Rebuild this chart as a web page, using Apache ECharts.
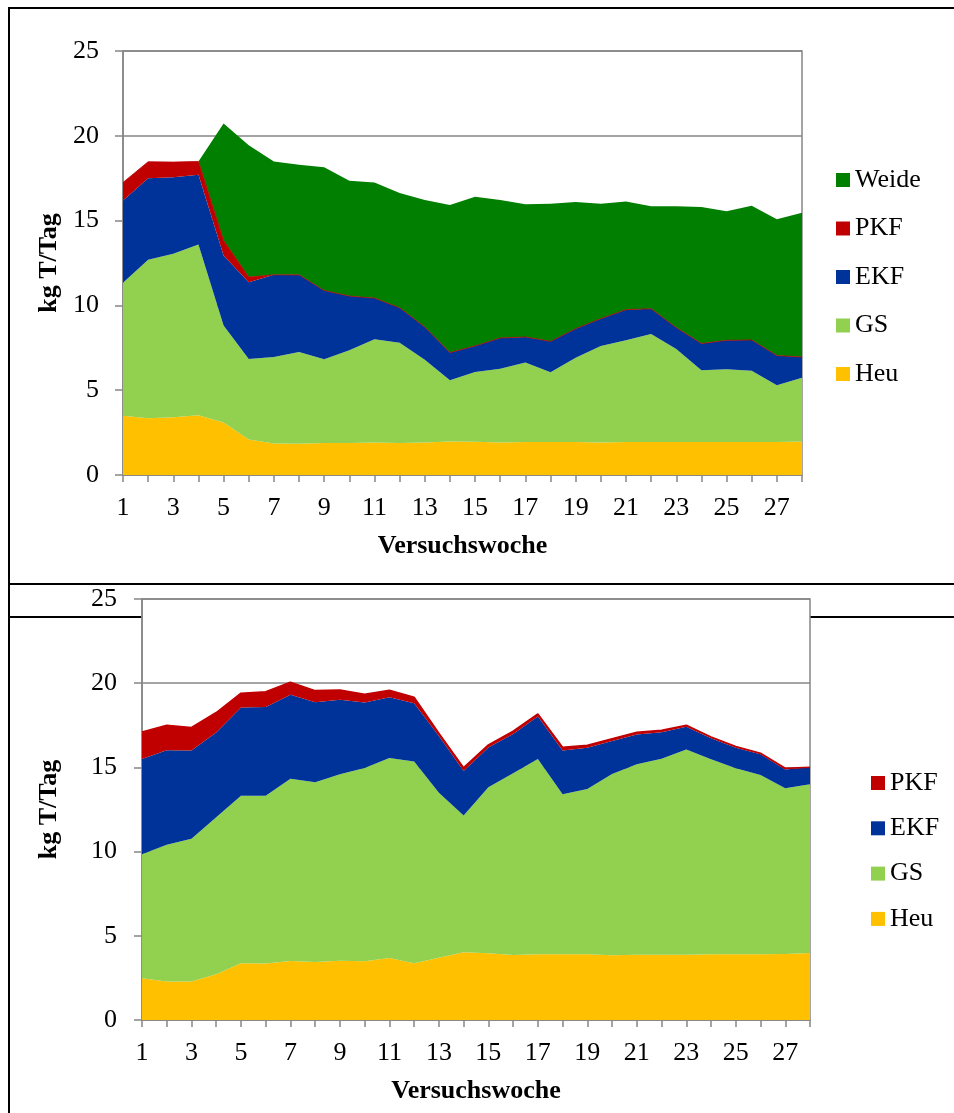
<!DOCTYPE html>
<html>
<head>
<meta charset="utf-8">
<script src="https://cdn.jsdelivr.net/npm/echarts@6/dist/echarts.min.js"></script>
<style>
html,body{margin:0;padding:0;background:#fff;}
#c{width:954px;height:1113px;}
</style>
</head>
<body>
<div id="c"></div>
<script>
// Categories (Versuchswoche)
const weeks = ['1','2','3','4','5','6','7','8','9','10','11','12','13','14','15','16','17','18','19','20','21','22','23','24','25','26','27','28'];

// Top chart (with Weide)
const topHeu   = [3.49,3.35,3.41,3.53,3.10,2.10,1.86,1.84,1.88,1.88,1.92,1.88,1.92,1.98,1.96,1.92,1.94,1.94,1.94,1.92,1.94,1.94,1.94,1.94,1.94,1.94,1.94,1.98];
const topGS    = [7.84,9.34,9.63,10.06,5.72,4.74,5.10,5.41,4.94,5.47,6.08,5.92,4.88,3.61,4.12,4.35,4.69,4.12,4.98,5.69,6.00,6.37,5.49,4.24,4.30,4.20,3.35,3.75];
const topEKF   = [4.85,4.80,4.51,4.12,4.12,4.53,4.84,4.55,4.06,3.20,2.43,2.06,1.93,1.63,1.53,1.81,1.51,1.82,1.71,1.61,1.81,1.49,1.26,1.57,1.70,1.82,1.75,1.23];
const topPKF   = [1.07,0.98,0.90,0.78,0.88,0.30,0,0,0,0,0,0,0,0,0,0,0,0,0,0,0,0,0,0,0,0,0,0];
const topWeide = [0,0,0,0,6.91,7.78,6.69,6.49,7.26,6.80,6.81,6.77,7.49,8.70,8.80,8.14,7.82,8.12,7.47,6.78,6.37,6.04,7.15,8.05,7.61,7.92,8.04,8.51];

// Bottom chart (without Weide)
const botHeu = [2.48,2.28,2.28,2.71,3.37,3.35,3.50,3.45,3.52,3.49,3.68,3.37,3.70,4.02,3.96,3.86,3.90,3.90,3.90,3.84,3.88,3.88,3.88,3.90,3.90,3.90,3.92,3.98];
const botGS  = [7.36,8.12,8.49,9.33,9.94,9.96,10.82,10.67,11.07,11.48,11.88,11.98,9.80,8.12,9.86,10.79,11.60,9.51,9.82,10.77,11.31,11.64,12.18,11.59,11.05,10.65,9.84,10.02];
const botEKF = [5.66,5.62,5.23,5.03,5.24,5.28,4.99,4.75,4.42,3.88,3.61,3.46,3.37,2.65,2.36,2.34,2.52,2.59,2.44,1.96,1.76,1.57,1.35,1.24,1.21,1.23,1.11,1.01];
const botPKF = [1.61,1.48,1.37,1.19,0.86,0.90,0.75,0.69,0.59,0.50,0.41,0.36,0.16,0.20,0.16,0.16,0.16,0.20,0.16,0.14,0.14,0.12,0.09,0.08,0.08,0.06,0.08,0];

const yTicks = {min:0, max:25, interval:5};
const legendTop = ['Weide','PKF','EKF','GS','Heu'];
const legendBot = ['PKF','EKF','GS','Heu'];

const colors = {Heu:'#FFC000', GS:'#92D050', EKF:'#003399', PKF:'#C00000', Weide:'#007F00'};
const FONT = '"Liberation Serif","Times New Roman",serif';
const AX = '#868686';

function mkSeries(name, data, idx, stack, lineW){
  return {
    name: name, type: 'line', data: data, stack: stack,
    xAxisIndex: idx, yAxisIndex: idx,
    symbol: 'none', showSymbol: false, smooth: false,
    color: colors[name],
    lineStyle: {width: lineW || 0, color: colors[name]},
    areaStyle: {color: colors[name], opacity: 1},
    emphasis: {disabled: true},
    animation: false
  };
}

function xAx(idx, gap){
  return {
    type:'category', gridIndex: idx, data: weeks, boundaryGap: false,
    name: 'Versuchswoche', nameLocation: 'middle', nameGap: gap,
    nameTextStyle: {fontFamily: FONT, fontSize: 26, fontWeight: 'bold', color: '#000'},
    axisLine: {show: true, lineStyle: {color: AX, width: 1.5}},
    axisTick: {show: true, interval: 0, length: 7, lineStyle: {color: AX, width: 1.5}},
    axisLabel: {interval: 1, fontFamily: FONT, fontSize: 26, color: '#000', margin: 20},
    splitLine: {show: false}
  };
}
function yAx(idx, gap, margin){
  return {
    type:'value', gridIndex: idx, min: yTicks.min, max: yTicks.max, interval: yTicks.interval,
    name: 'kg T/Tag', nameLocation: 'middle', nameGap: gap, nameRotate: 90,
    nameTextStyle: {fontFamily: FONT, fontSize: 26, fontWeight: 'bold', color: '#000'},
    axisLine: {show: true, lineStyle: {color: AX, width: 1.5}},
    axisTick: {show: true, length: 8, lineStyle: {color: AX, width: 1.5}},
    axisLabel: {fontFamily: FONT, fontSize: 26, color: '#000', margin: margin},
    splitLine: {show: true, lineStyle: {color: AX, width: 1.5}}
  };
}

const chart = echarts.init(document.getElementById('c'), null, {renderer: 'canvas'});
chart.setOption({
  animation: false,
  backgroundColor: '#fff',
  grid: [
    {left: 123, top: 51, width: 679, height: 424, show: true, borderColor: AX, borderWidth: 1.5, backgroundColor: 'transparent'},
    {left: 142, top: 599, width: 668, height: 421, show: true, borderColor: AX, borderWidth: 1.5, backgroundColor: '#fff'}
  ],
  xAxis: [xAx(0, 58), xAx(1, 58)],
  yAxis: [yAx(0, 61, 24), yAx(1, 80, 25)],
  legend: [
    {data: legendTop, orient: 'vertical', left: 836, top: 167, padding: 0, icon: 'rect', itemWidth: 14, itemHeight: 14, itemGap: 22.5,
     textStyle: {fontFamily: FONT, fontSize: 26, color: '#000', lineHeight: 26}, selectedMode: false},
    {data: legendBot, orient: 'vertical', left: 871, top: 770, padding: 0, icon: 'rect', itemWidth: 14, itemHeight: 14, itemGap: 19.3,
     textStyle: {fontFamily: FONT, fontSize: 26, color: '#000', lineHeight: 26}, selectedMode: false}
  ],
  graphic: [
    {type:'line', z: -10, shape:{x1:9, y1:8, x2:954, y2:8}, style:{stroke:'#000', lineWidth:2}},
    {type:'line', z: -10, shape:{x1:9, y1:7, x2:9, y2:1113}, style:{stroke:'#000', lineWidth:2}},
    {type:'line', z: -10, shape:{x1:9, y1:584, x2:954, y2:584}, style:{stroke:'#000', lineWidth:2}},
    {type:'line', z: -10, shape:{x1:9, y1:617, x2:142, y2:617}, style:{stroke:'#000', lineWidth:2}},
    {type:'line', z: -10, shape:{x1:810, y1:617, x2:954, y2:617}, style:{stroke:'#000', lineWidth:2}}
  ],
  series: [
    mkSeries('Heu', topHeu, 0, 'top'),
    mkSeries('GS', topGS, 0, 'top'),
    mkSeries('EKF', topEKF, 0, 'top'),
    mkSeries('PKF', topPKF, 0, 'top', 0.8),
    mkSeries('Weide', topWeide, 0, 'top'),
    mkSeries('Heu', botHeu, 1, 'bot'),
    mkSeries('GS', botGS, 1, 'bot'),
    mkSeries('EKF', botEKF, 1, 'bot'),
    mkSeries('PKF', botPKF, 1, 'bot', 1.5)
  ]
});
</script>
</body>
</html>
